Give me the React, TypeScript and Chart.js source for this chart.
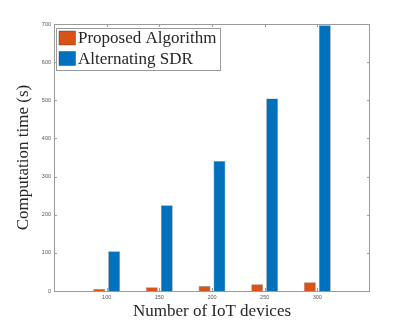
import React, { useEffect, useRef } from 'react';
import { Chart, registerables } from 'chart.js';

Chart.register(...registerables);

const categories = [100, 150, 200, 250, 300];
const proposedValues = [5, 10, 13, 18, 23];
const alternatingValues = [104, 225, 341, 505, 697];
const seriesLabels = ['Proposed Algorithm', 'Alternating SDR'];
const seriesColors = ['#D95319', '#0072BD'];
const xRange = [50, 350];
const yRange = [0, 700];
const yStep = 100;
const xTitle = 'Number of IoT devices';
const yTitle = 'Computation time (s)';

const SERIF = '"Liberation Serif", "Times New Roman", serif';
const SANS = '"Liberation Sans", Arial, sans-serif';

const framePlugin = {
  id: 'matlabFrame',
  afterDatasetsDraw(chart: any) {
    const { ctx, chartArea: a, scales } = chart;
    ctx.save();
    ctx.strokeStyle = '#9a9a9a';
    ctx.lineWidth = 1;
    ctx.beginPath();
    ctx.rect(Math.round(a.left) + 0.5, Math.round(a.top) + 0.5, Math.round(a.right - a.left) - 1, Math.round(a.bottom - a.top));
    ctx.stroke();
    const tl = 3;
    ctx.beginPath();
    scales.y.ticks.forEach((t: any) => {
      const py = Math.round(scales.y.getPixelForValue(t.value)) + 0.5;
      ctx.moveTo(a.left, py); ctx.lineTo(a.left + tl, py);
      ctx.moveTo(a.right, py); ctx.lineTo(a.right - tl, py);
    });
    scales.x.ticks.forEach((t: any) => {
      const px = Math.round(scales.x.getPixelForValue(t.value)) + 0.5;
      ctx.moveTo(px, a.bottom); ctx.lineTo(px, a.bottom - tl);
      ctx.moveTo(px, a.top); ctx.lineTo(px, a.top + tl);
    });
    ctx.stroke();
    ctx.restore();
  },
  afterDraw(chart: any) {
    const { ctx, chartArea: a } = chart;
    const ds = chart.data.datasets;
    ctx.save();
    ctx.font = `17px ${SERIF}`;
    const maxW = Math.max(...ds.map((d: any) => ctx.measureText(d.label).width));
    const bx = a.left + 2;
    const by = a.top + 3.5;
    const textX = bx + 22;
    const bw = textX - bx + maxW + 4;
    const rowH = 20.5;
    const bh = 8 + rowH * ds.length - 7.5;
    ctx.fillStyle = '#ffffff';
    ctx.fillRect(bx, by, bw, bh);
    ctx.strokeStyle = '#9a9a9a';
    ctx.lineWidth = 1;
    ctx.strokeRect(Math.round(bx) + 0.5, Math.round(by) + 0.5, Math.round(bw), Math.round(bh));
    ds.forEach((d: any, i: number) => {
      const cy = by + 10.5 + i * rowH;
      ctx.fillStyle = d.backgroundColor;
      ctx.fillRect(bx + 3, cy - 7, 16.5, 14);
      ctx.strokeStyle = 'rgba(40,40,40,0.6)';
      ctx.lineWidth = 0.6;
      ctx.strokeRect(bx + 3, cy - 7, 16.5, 14);
      ctx.fillStyle = '#262626';
      ctx.textBaseline = 'middle';
      ctx.textAlign = 'left';
      ctx.fillText(d.label, textX, cy + 1);
    });
    ctx.restore();
  },
};

export default function App() {
  const ref = useRef<HTMLCanvasElement | null>(null);
  useEffect(() => {
    if (!ref.current) return;
    const chart = new Chart(ref.current, {
      type: 'bar',
      data: {
        datasets: [
          {
            label: seriesLabels[0],
            data: categories.map((c, i) => ({ x: c, y: proposedValues[i] })),
            backgroundColor: seriesColors[0],
            borderColor: 'rgba(50,50,50,0.55)',
            borderWidth: 0.6,
            categoryPercentage: 0.566,
            barPercentage: 0.8,
          },
          {
            label: seriesLabels[1],
            data: categories.map((c, i) => ({ x: c, y: alternatingValues[i] })),
            backgroundColor: seriesColors[1],
            borderColor: 'rgba(50,50,50,0.55)',
            borderWidth: 0.6,
            categoryPercentage: 0.566,
            barPercentage: 0.8,
          },
        ],
      } as any,
      options: {
        animation: false,
        responsive: false,
        layout: { padding: { left: 0, right: 39, top: 24, bottom: 0 } },
        plugins: { legend: { display: false }, tooltip: { enabled: false } },
        scales: {
          x: {
            type: 'linear',
            min: xRange[0],
            max: xRange[1],
            offset: false,
            grid: { display: false, drawTicks: false, offset: false },
            border: { display: false },
            afterBuildTicks: (s: any) => {
              s.ticks = categories.map((v) => ({ value: v }));
            },
            afterFit: (s: any) => {
              s.height = 36;
            },
            ticks: {
              padding: 3,
              maxRotation: 0,
              autoSkip: false,
              color: '#555555',
              font: { family: SANS, size: 5.5, lineHeight: 1.2 },
              callback: (v: any) => String(v),
            },
            title: {
              display: true,
              text: xTitle,
              color: '#262626',
              font: { family: SERIF, size: 17, lineHeight: 1.2 },
              padding: { top: 0, bottom: 5 },
            },
          },
          y: {
            type: 'linear',
            min: yRange[0],
            max: yRange[1],
            grid: { display: false, drawTicks: false },
            border: { display: false },
            afterFit: (s: any) => {
              s.width = 54;
            },
            ticks: {
              stepSize: yStep,
              padding: 3,
              color: '#555555',
              font: { family: SANS, size: 5.5, lineHeight: 1.2 },
            },
            title: {
              display: true,
              text: yTitle,
              color: '#262626',
              font: { family: SERIF, size: 17, lineHeight: 1.2 },
              padding: { top: 13, bottom: 0 },
            },
          },
        },
      } as any,
      plugins: [framePlugin],
    });
    return () => chart.destroy();
  }, []);
  return (
    <div style={{ position: 'absolute', left: 0, top: 0, width: 409, height: 327, background: '#ffffff' }}>
      <canvas ref={ref} width={409} height={327} style={{ display: 'block' }} />
    </div>
  );
}
